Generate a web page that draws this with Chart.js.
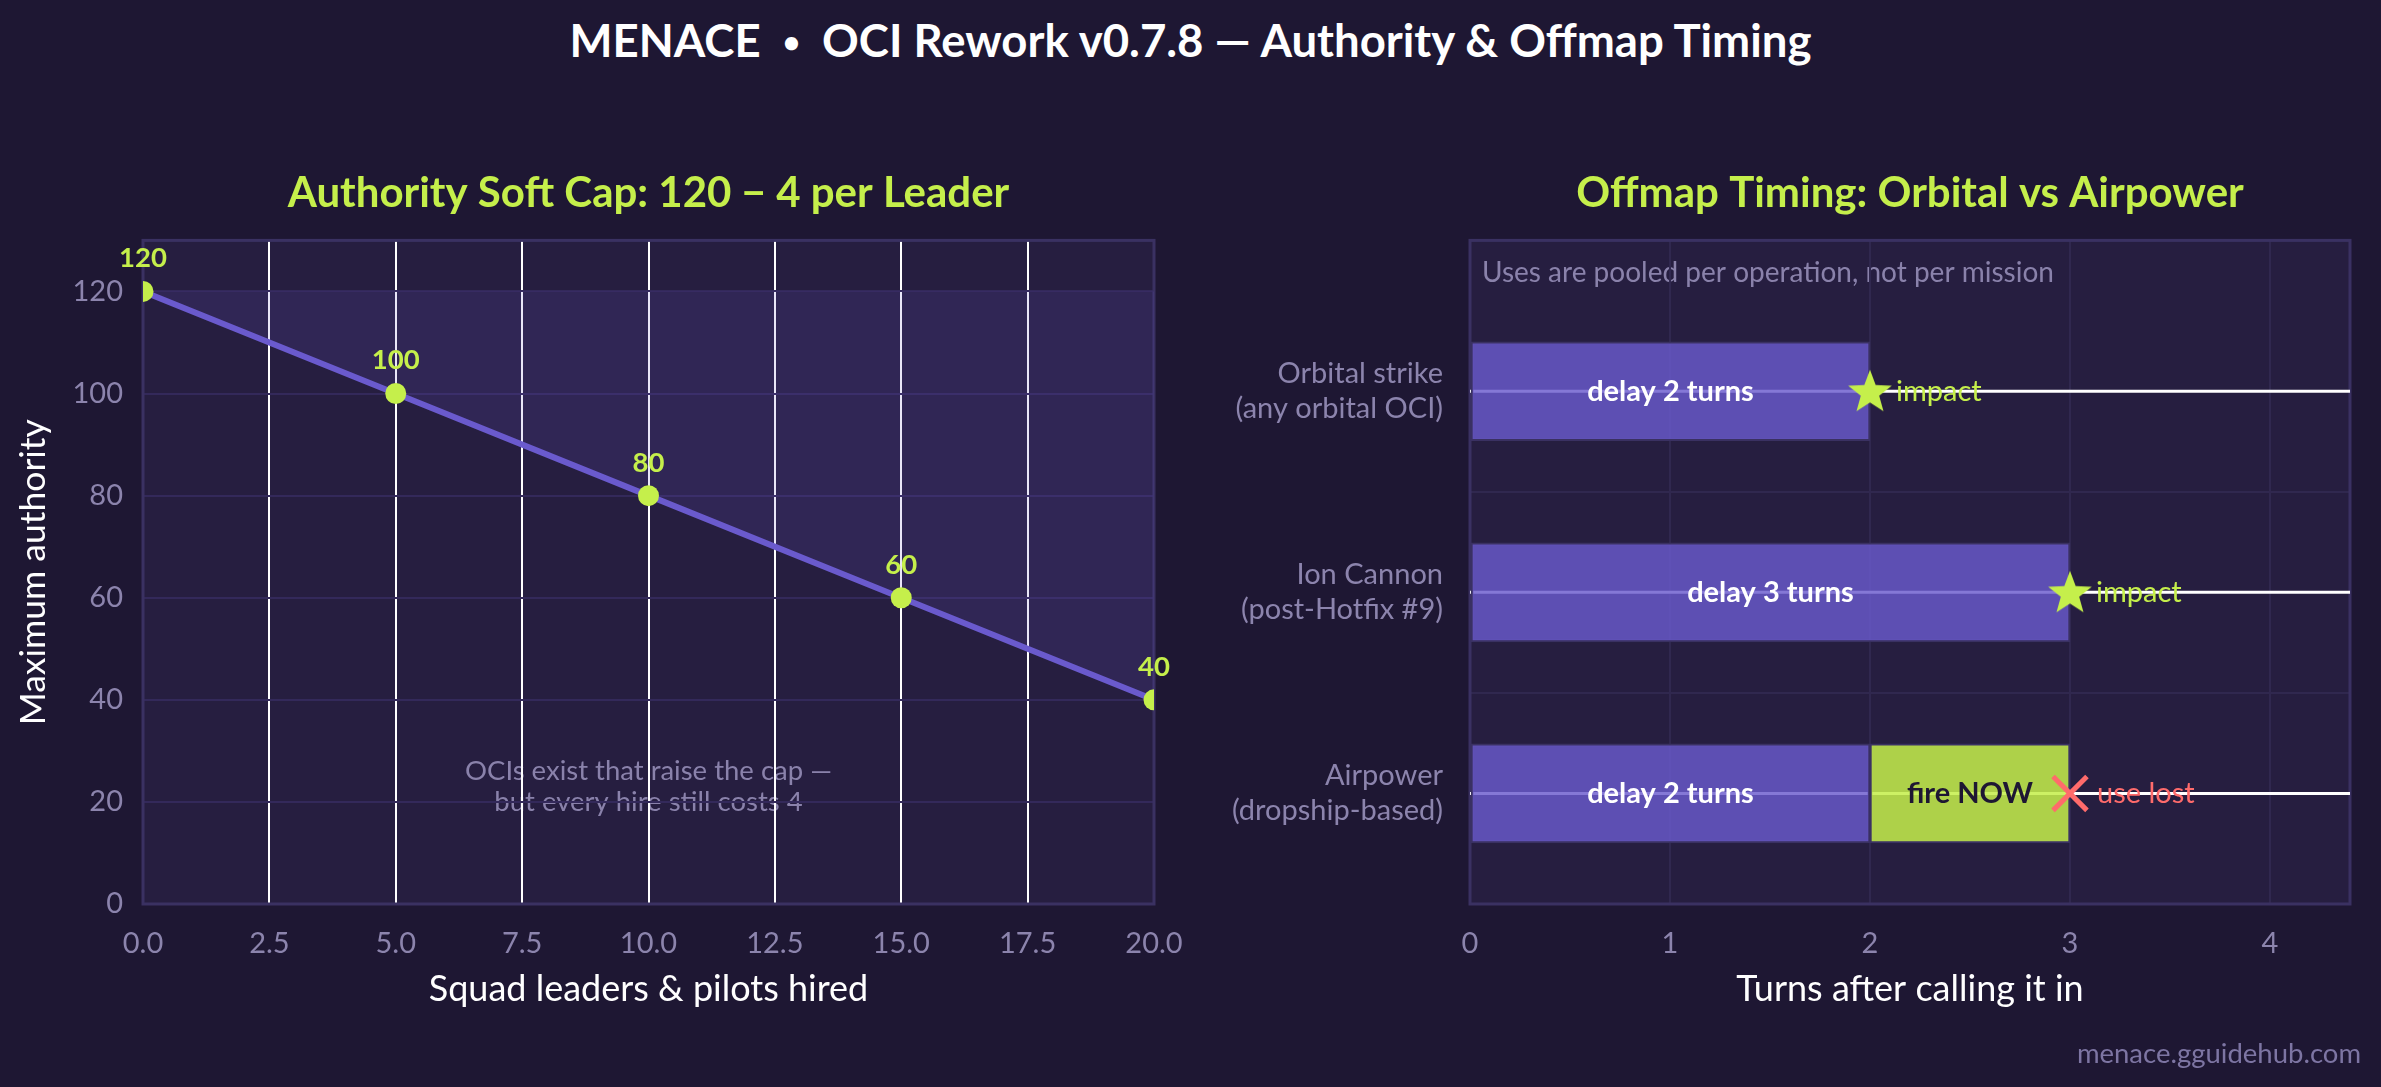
<!DOCTYPE html>
<html>
<head>
<meta charset="utf-8">
<script src="https://cdn.jsdelivr.net/npm/chart.js@4.4.1/dist/chart.umd.min.js"></script>
<style>
  html, body { margin: 0; padding: 0; background: #1e1733; }
  #page { position: relative; width: 2381px; height: 1087px; background: #1e1733; overflow: hidden; font-family: Lato, "Noto Sans", sans-serif; }
  #mainTitle { position: absolute; left: 0; top: 12px; width: 2381px; text-align: center; color: #ffffff; font-weight: 700; font-size: 45.5px; line-height: 56px; }
  #mainTitle .dot { display: inline-block; font-size: 30px; vertical-align: 4px; margin: 0 22px; }
  #watermark { position: absolute; right: 20px; top: 1035px; color: #7d75a3; font-size: 27.5px; line-height: 36px; }
  canvas { position: absolute; top: 0; }
  #left { left: 0; }
  #right { left: 1190px; }
</style>
</head>
<body>
<div id="page">
  <div id="mainTitle">MENACE<span class="dot">•</span>OCI Rework v0.7.8 — Authority &amp; Offmap Timing</div>
  <canvas id="left" width="1190" height="1087"></canvas>
  <canvas id="right" width="1191" height="1087"></canvas>
  <div id="watermark">menace.gguidehub.com</div>
</div>
<script>
// ---------------- DATA ----------------
// Left panel: authority soft cap
const leadersHired = [0, 5, 10, 15, 20];
const maxAuthority = [120, 100, 80, 60, 40];
const baseCap = 120;
const leftTitle = 'Authority Soft Cap: 120 − 4 per Leader';
const leftXTitle = 'Squad leaders & pilots hired';
const leftYTitle = 'Maximum authority';
const capNote = ['OCIs exist that raise the cap —', 'but every hire still costs 4'];
const capNoteAt = [10, 23];

// Right panel: offmap timing
const offmapCategories = [
  ['Orbital strike', '(any orbital OCI)'],
  ['Ion Cannon', '(post-Hotfix #9)'],
  ['Airpower', '(dropship-based)']
];
const delayStart = [0, 0, 0];
const delayEnd = [2, 3, 2];
const delayLabels = ['delay 2 turns', 'delay 3 turns', 'delay 2 turns'];
const fireNowRow = [2];
const fireNowStart = [2];
const fireNowEnd = [3];
const fireNowLabels = ['fire NOW'];
const impactRows = [0, 1];
const impactTurns = [2, 3];
const lostRows = [2];
const lostTurns = [3];
const turnAxisMax = 4.4;
const rightTitle = 'Offmap Timing: Orbital vs Airpower';
const rightXTitle = 'Turns after calling it in';
const poolNote = 'Uses are pooled per operation, not per mission';

// ---------------- STYLE ----------------
const FONT = 'Lato, "Noto Sans", sans-serif';
const LIME = '#c5ef4b';
const PURPLE = '#6a5acd';
const SALMON = '#ff6b6b';
const TICK = '#8c84ad';
const PLOT_BG = '#261e40';
const FRAME = '#3a3162';
const FAINT = '#30284f';
const CLEAR = 'rgba(0,0,0,0)';

Chart.defaults.font.family = FONT;
Chart.defaults.color = TICK;
Chart.defaults.animation = false;
Chart.defaults.responsive = false;
Chart.defaults.devicePixelRatio = 1;
Chart.defaults.plugins.legend.display = false;
Chart.defaults.plugins.tooltip.enabled = false;

function noSidePadding(s, h) {
  s.height = h;
  s.paddingLeft = 0;
  s.paddingRight = 0;
}

function framePlugin(id, drawExtra) {
  return {
    id,
    beforeDraw(chart) {
      const { ctx, chartArea: a } = chart;
      ctx.save();
      ctx.fillStyle = PLOT_BG;
      ctx.fillRect(a.left, a.top, a.right - a.left, a.bottom - a.top);
      ctx.restore();
      if (drawExtra) drawExtra(chart);
    },
    beforeDatasetsDraw(chart) {
      const { ctx, chartArea: a } = chart;
      ctx.save();
      ctx.strokeStyle = FRAME;
      ctx.lineWidth = 3;
      ctx.strokeRect(a.left, a.top, a.right - a.left, a.bottom - a.top);
      ctx.restore();
    }
  };
}

// ---------------- LEFT CHART ----------------
const leftPoints = leadersHired.map((x, i) => ({ x, y: maxAuthority[i] }));

const leftNote = framePlugin('leftFrame', (chart) => {
  const { ctx, scales: { x, y } } = chart;
  ctx.save();
  ctx.font = '27.5px ' + FONT;
  ctx.fillStyle = '#8a82ab';
  ctx.textAlign = 'center';
  ctx.textBaseline = 'middle';
  const cx = x.getPixelForValue(capNoteAt[0]);
  const cy = y.getPixelForValue(capNoteAt[1]);
  capNote.forEach((t, i) => ctx.fillText(t, cx, cy + (i - (capNote.length - 1) / 2) * 31));
  ctx.restore();
});

const pointLabels = {
  id: 'pointLabels',
  afterDatasetsDraw(chart) {
    const { ctx } = chart;
    const meta = chart.getDatasetMeta(0);
    ctx.save();
    ctx.font = 'bold 27.5px ' + FONT;
    ctx.fillStyle = LIME;
    ctx.textAlign = 'center';
    ctx.textBaseline = 'middle';
    meta.data.forEach((pt, i) => {
      ctx.fillText(String(maxAuthority[i]), pt.x, pt.y - 33);
    });
    ctx.restore();
  }
};

new Chart(document.getElementById('left'), {
  type: 'line',
  data: {
    datasets: [{
      data: leftPoints,
      borderColor: PURPLE,
      borderWidth: 6,
      pointRadius: 10.5,
      pointBackgroundColor: LIME,
      pointBorderWidth: 0,
      tension: 0,
      fill: { value: baseCap },
      backgroundColor: 'rgba(106,90,205,0.15)',
      clip: 0
    }]
  },
  options: {
    layout: { padding: { left: 0, right: 36, top: 0, bottom: 0 } },
    plugins: {
      title: {
        display: true, text: leftTitle, color: LIME, fullSize: false,
        font: { size: 42, weight: 'bold', family: FONT, lineHeight: 1.2 },
        padding: { top: 168, bottom: 22 }
      }
    },
    scales: {
      x: {
        type: 'linear', min: 0, max: 20, offset: false,
        afterFit: (s) => noSidePadding(s, 183),
        ticks: { stepSize: 2.5, includeBounds: false, padding: 22, color: TICK,
                 font: { size: 29 }, callback: (v) => Number(v).toFixed(1) },
        grid: { drawTicks: false, lineWidth: 2,
                color: (c) => (c.tick && (c.tick.value === 0 || c.tick.value === 20)) ? CLEAR : '#ffffff' },
        border: { display: false },
        title: { display: true, text: leftXTitle, color: '#ffffff', font: { size: 36 }, padding: { top: 0, bottom: 76 } }
      },
      y: {
        type: 'linear', min: 0, max: 130, offset: false,
        afterFit: (s) => { s.width = 143; },
        ticks: { stepSize: 20, includeBounds: false, padding: 20, color: TICK, font: { size: 29 } },
        grid: { drawTicks: false, color: '#33295a', lineWidth: 2 },
        border: { display: false },
        title: { display: true, text: leftYTitle, color: '#ffffff', font: { size: 35.5 }, padding: { top: 12, bottom: 0 } }
      }
    }
  },
  plugins: [leftNote, pointLabels]
});

// ---------------- RIGHT CHART ----------------
function makeStar(size, color) {
  const c = document.createElement('canvas');
  c.width = size; c.height = size;
  const g = c.getContext('2d');
  const R = size / 2, r = R * 0.42;
  g.beginPath();
  for (let i = 0; i < 10; i++) {
    const rad = (i % 2 === 0) ? R : r;
    const ang = -Math.PI / 2 + i * Math.PI / 5;
    const px = R + rad * Math.cos(ang), py = R + 1.5 + rad * Math.sin(ang);
    if (i === 0) g.moveTo(px, py); else g.lineTo(px, py);
  }
  g.closePath();
  g.fillStyle = color;
  g.fill();
  return c;
}
const starImg = makeStar(46, LIME);

const timelines = offmapCategories.map((_, i) => ({
  type: 'line',
  data: [{ x: 0, y: i }, { x: turnAxisMax, y: i }],
  borderColor: '#ffffff',
  borderWidth: 3,
  pointRadius: 0,
  order: 5,
  clip: 0
}));

const rightDeco = framePlugin('rightFrame', (chart) => {
  const { ctx, chartArea: a } = chart;
  ctx.save();
  ctx.font = '28px ' + FONT;
  ctx.fillStyle = '#8a82ab';
  ctx.textAlign = 'left';
  ctx.textBaseline = 'middle';
  ctx.fillText(poolNote, a.left + 12, a.top + 33);
  ctx.restore();
});

const barTexts = {
  id: 'barTexts',
  afterDatasetsDraw(chart) {
    const { ctx } = chart;
    ctx.save();
    ctx.textAlign = 'center';
    ctx.textBaseline = 'middle';
    ctx.font = 'bold 29px ' + FONT;
    const dMeta = chart.getDatasetMeta(offmapCategories.length);
    dMeta.data.forEach((bar, i) => {
      const c = bar.getCenterPoint();
      ctx.fillStyle = '#ffffff';
      ctx.fillText(delayLabels[i], c.x, c.y);
    });
    const fMeta = chart.getDatasetMeta(offmapCategories.length + 1);
    fMeta.data.forEach((bar, i) => {
      const c = bar.getCenterPoint();
      ctx.fillStyle = '#1e1733';
      ctx.fillText(fireNowLabels[i], c.x, c.y);
    });
    ctx.font = '29px ' + FONT;
    ctx.textAlign = 'left';
    const iMeta = chart.getDatasetMeta(offmapCategories.length + 2);
    iMeta.data.forEach((p) => { ctx.fillStyle = LIME; ctx.fillText('impact', p.x + 26, p.y); });
    const lMeta = chart.getDatasetMeta(offmapCategories.length + 3);
    lMeta.data.forEach((p) => { ctx.fillStyle = SALMON; ctx.fillText('use lost', p.x + 27, p.y); });
    ctx.restore();
  }
};

new Chart(document.getElementById('right'), {
  type: 'bar',
  data: {
    datasets: [
      ...timelines,
      {
        type: 'bar', indexAxis: 'y', grouped: false,
        data: delayStart.map((s, i) => ({ y: i, x: [s, delayEnd[i]] })),
        backgroundColor: 'rgba(106,90,205,0.82)',
        borderColor: FRAME, borderWidth: 2, borderSkipped: false,
        barThickness: 99, order: 3
      },
      {
        type: 'bar', indexAxis: 'y', grouped: false,
        data: fireNowRow.map((r, i) => ({ y: r, x: [fireNowStart[i], fireNowEnd[i]] })),
        backgroundColor: 'rgba(197,239,75,0.86)',
        borderColor: FRAME, borderWidth: 2, borderSkipped: false,
        barThickness: 99, order: 2
      },
      {
        type: 'scatter',
        data: impactRows.map((r, i) => ({ x: impactTurns[i], y: r })),
        pointStyle: starImg, pointRadius: 23, order: 1, clip: false
      },
      {
        type: 'scatter',
        data: lostRows.map((r, i) => ({ x: lostTurns[i], y: r })),
        pointStyle: 'crossRot', pointRadius: 24, borderColor: SALMON, pointBorderWidth: 5,
        borderWidth: 5, order: 0, clip: false
      }
    ]
  },
  options: {
    layout: { padding: { left: 0, right: 31, top: 0, bottom: 0 } },
    plugins: {
      title: {
        display: true, text: rightTitle, color: LIME, fullSize: false,
        font: { size: 42, weight: 'bold', family: FONT, lineHeight: 1.2 },
        padding: { top: 168, bottom: 22 }
      }
    },
    scales: {
      x: {
        type: 'linear', min: 0, max: turnAxisMax, offset: false,
        afterFit: (s) => noSidePadding(s, 183),
        ticks: { stepSize: 1, includeBounds: false, padding: 22, color: TICK, font: { size: 29 } },
        grid: { drawTicks: false, lineWidth: 2, offset: false,
                color: (c) => (c.tick && c.tick.value === 0) ? CLEAR : FAINT },
        border: { display: false },
        title: { display: true, text: rightXTitle, color: '#ffffff', font: { size: 36 }, padding: { top: 0, bottom: 76 } }
      },
      y: {
        type: 'linear', min: -0.75, max: 2.55, reverse: true, offset: false,
        afterFit: (s) => { s.width = 280; },
        afterBuildTicks: (s) => { s.ticks = offmapCategories.map((_, i) => ({ value: i })); },
        ticks: { padding: 27, color: TICK, font: { size: 29, lineHeight: 1.2 },
                 callback: (v) => offmapCategories[v] },
        grid: { drawTicks: false, offset: true, lineWidth: 2,
                color: (c) => (c.type === 'tick' && c.index > 0) ? FAINT : CLEAR },
        border: { display: false }
      }
    }
  },
  plugins: [rightDeco, barTexts]
});
</script>
</body>
</html>
